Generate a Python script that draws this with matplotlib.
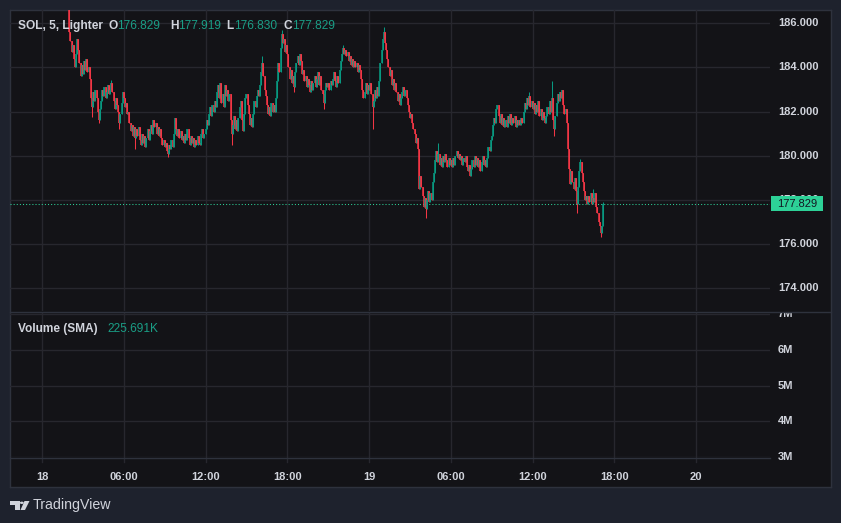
import matplotlib
matplotlib.use("Agg")
import matplotlib.pyplot as plt
from matplotlib.patches import Rectangle, Circle, Polygon
from matplotlib.lines import Line2D

plt.rcParams['font.family'] = ['Liberation Sans', 'DejaVu Sans']

# ---------------- data ----------------
START_HOUR = 2.0          # first candle: 18th 02:00 (hours since 18th 00:00)
BAR_MINUTES = 5
OPEN_FIRST = 187.0
CLOSES = [
    185.6, 185.2, 184.7, 185.0, 184.4, 184.0, 184.6, 185.3, 184.8, 184.2, 183.6, 184.1,
    183.7, 184.3, 183.9, 184.4, 183.8, 184.0, 183.5, 182.6, 182.2, 182.9, 182.5, 183.0,
    182.6, 182.0, 181.6, 182.1, 182.5, 183.0, 182.7, 183.1, 182.6, 182.9, 183.2, 182.8,
    183.0, 183.3, 182.9, 182.5, 182.1, 182.6, 182.3, 182.0, 181.5, 181.9, 182.4, 182.9,
    182.6, 182.2, 182.4, 181.9, 182.0, 181.5, 181.1, 181.4, 180.9, 181.3, 180.8, 181.2,
    180.9, 181.3, 180.7, 180.5, 181.0, 180.6, 180.9, 180.4, 180.8, 181.2, 180.7, 181.1,
    181.4, 181.0, 181.6, 181.3, 181.5, 181.0, 181.3, 180.9, 181.2, 180.8, 180.5, 180.7,
    180.4, 180.6, 180.2, 180.1, 180.5, 180.3, 180.7, 180.4, 181.0, 181.7, 181.2, 180.9,
    181.2, 180.8, 181.1, 180.7, 180.9, 180.6, 181.0, 180.7, 181.2, 180.8, 180.5, 180.9,
    180.6, 180.8, 180.4, 180.7, 180.5, 180.9, 180.6, 180.5, 181.0, 181.2, 180.8, 181.0,
    181.2, 181.6, 181.4, 181.9, 182.2, 181.8, 182.3, 182.0, 182.5, 182.2, 182.9, 183.2,
    182.6, 183.3, 182.4, 182.8, 182.2, 183.2, 182.7, 183.0, 182.5, 182.8, 181.6, 181.0,
    181.4, 181.8, 181.2, 181.6, 181.1, 181.7, 182.2, 182.5, 181.6, 181.1, 181.9, 182.6,
    182.8, 182.3, 181.9, 181.4, 181.7, 181.3, 181.9, 182.5, 182.2, 182.7, 183.0, 182.7,
    183.2, 183.8, 184.2, 183.6, 183.0, 182.7, 182.3, 181.9, 182.2, 181.8, 182.4, 182.0,
    182.3, 182.0, 182.6, 183.4, 184.2, 183.8, 184.9, 185.5, 185.1, 185.3, 184.7, 185.0,
    184.6, 184.0, 183.5, 183.9, 183.3, 183.6, 183.1, 183.8, 184.2, 184.5, 184.1, 184.6,
    184.3, 183.7, 183.9, 183.4, 183.6, 183.1, 183.5, 183.2, 182.9, 183.4, 183.0, 183.3,
    183.6, 183.1, 183.5, 183.8, 183.2, 183.6, 183.0, 182.8, 182.4, 183.0, 183.3, 183.1,
    183.3, 183.0, 183.4, 183.2, 183.5, 183.8, 183.4, 183.1, 183.6, 183.3, 183.9, 184.3,
    184.6, 184.9, 184.6, 184.8, 184.5, 184.7, 184.3, 184.5, 184.1, 184.4, 184.0, 184.3,
    184.0, 184.2, 183.8, 184.1, 183.9, 183.5, 183.0, 182.6, 182.9, 183.3, 182.8, 183.2,
    183.0, 183.3, 182.8, 182.2, 182.5, 183.0, 182.6, 183.1, 182.7, 183.4, 184.2, 184.8,
    185.3, 185.6, 185.1, 184.8, 184.4, 184.0, 183.6, 183.9, 183.2, 183.5, 183.0, 183.3,
    182.9, 182.5, 182.8, 182.3, 182.6, 182.9, 183.1, 182.7, 183.0, 182.6, 182.3, 182.0,
    181.7, 181.9, 181.5, 181.2, 181.0, 180.6, 180.8, 180.3, 178.5, 179.1, 178.6, 178.2,
    177.7, 178.1, 177.6, 178.0, 178.4, 177.9, 178.3, 178.0, 178.8, 179.2, 179.8, 180.2,
    179.7, 180.1, 179.6, 179.9, 179.5, 180.0, 179.7, 180.1, 179.8, 179.5, 179.9, 179.6,
    179.8, 179.5, 179.9, 179.6, 180.0, 180.2, 179.9, 180.1, 179.8, 180.0, 179.6, 179.9,
    179.7, 180.0, 179.5, 179.3, 179.6, 179.1, 179.4, 179.8, 179.5, 180.0, 179.6, 179.9,
    179.5, 179.8, 179.3, 179.7, 180.0, 179.6, 179.8, 179.5, 179.9, 180.4, 180.2, 180.7,
    180.9, 181.4, 181.7, 181.5, 182.1, 182.3, 181.8, 181.5, 181.9, 181.4, 181.7, 181.3,
    181.6, 181.3, 181.8, 181.5, 181.9, 181.4, 181.7, 181.5, 181.8, 181.3, 181.6, 181.4,
    181.6, 181.4, 181.7, 181.5, 182.0, 182.4, 182.1, 182.6, 182.3, 182.7, 182.2, 182.5,
    182.1, 182.4, 181.9, 182.3, 182.0, 182.5, 181.8, 182.1, 181.6, 182.0, 181.7, 181.5,
    181.8, 182.2, 181.9, 182.5, 182.0, 182.6, 181.6, 181.2, 181.8, 182.4, 182.8, 182.5,
    182.9, 182.6, 183.0, 182.3, 181.9, 182.1, 181.5, 180.3, 179.4, 178.7, 179.3, 178.8,
    178.5, 179.0, 178.4, 177.8, 178.6, 179.3, 179.7, 179.2, 178.8, 178.4, 178.0, 178.2,
    177.8, 178.2, 177.9, 178.3, 177.8, 178.1, 177.9, 178.3, 177.7, 177.4, 177.0, 176.8,
    176.5, 176.829, 177.829,
]
HIGH_WICKS = {0: 187.2, 37: 183.45, 170: 184.5, 187: 185.7, 241: 185.0, 277: 185.85,
              325: 180.6, 405: 182.9, 425: 183.4, 450: 179.85, 461: 178.5, 470: 177.919}
LOW_WICKS = {20: 181.75, 26: 181.5, 44: 181.2, 58: 180.3, 87: 179.95, 143: 180.5,
             198: 182.9, 224: 182.1, 267: 181.2, 314: 177.2, 427: 180.9, 447: 177.4,
             468: 176.3, 470: 176.830}

PRICE_TICKS = [174, 176, 178, 180, 182, 184, 186]
VOLUME_TICKS = [3, 4, 5, 6, 7]     # millions
TIME_TICKS = [0, 6, 12, 18, 24, 30, 36, 42, 48]
TIME_LABELS = ["18", "06:00", "12:00", "18:00", "19", "06:00", "12:00", "18:00", "20"]
SYMBOL = "SOL, 5, Lighter"
VOLUME_TITLE = "Volume (SMA)"
VOLUME_SMA = "225.691K"

# ---------------- style ----------------
FIG_W, FIG_H = 841, 523
BG_OUT = "#1e222d"
BG_PANE = "#131317"
GRID = "#27272e"
BORDER = "#2e323d"
TEXT = "#d1d4dc"
UP = "#089981"
DOWN = "#f23645"
LAST = "#2dd197"
HDR_VAL = "#1a9e86"
HDR_FS = 8.6


def fx(px):
    return px / FIG_W


def fy(py):
    return 1 - py / FIG_H


def rect(l, t, r, b):
    return [fx(l), fy(b), fx(r) - fx(l), fy(t) - fy(b)]


fig = plt.figure(figsize=(FIG_W / 100, FIG_H / 100), dpi=100, facecolor=BG_OUT)

bg = fig.add_axes(rect(10, 10, 831, 487))
bg.set_facecolor(BG_PANE)
bg.set_xticks([])
bg.set_yticks([])
for s in bg.spines.values():
    s.set_color(BORDER)
    s.set_linewidth(1.0)

# pixel calibration of the scales
PX_18 = 42.0
PX_PER_HOUR = 13.63
X_LEFT, X_RIGHT = 10, 770
xlim = ((X_LEFT - PX_18) / PX_PER_HOUR, (X_RIGHT - PX_18) / PX_PER_HOUR)


def price_at(py):
    return 186 - (py - 23.3) / 22.08


def vol_at(py):
    return 3 + (457 - py) / 35.7


# ---------------- price pane ----------------
ax = fig.add_axes(rect(X_LEFT, 10, X_RIGHT, 311))
ax.set_facecolor("none")
ax.set_xlim(*xlim)
ax.set_ylim(price_at(311), price_at(10))
ax.axis("off")
for t in TIME_TICKS:
    ax.axvline(t, color=GRID, lw=1, zorder=0)
for p in PRICE_TICKS:
    ax.axhline(p, color=GRID, lw=1, zorder=0)

n = len(CLOSES)
times = [START_HOUR + i * BAR_MINUTES / 60 for i in range(n)]
opens = [OPEN_FIRST] + CLOSES[:-1]
highs = [max(o, c, HIGH_WICKS.get(i, c)) for i, (o, c) in enumerate(zip(opens, CLOSES))]
lows = [min(o, c, LOW_WICKS.get(i, c)) for i, (o, c) in enumerate(zip(opens, CLOSES))]
cols = [UP if c >= o else DOWN for o, c in zip(opens, CLOSES)]
ax.vlines(times, lows, highs, colors=cols, linewidth=0.75, zorder=3)
ax.vlines(times, [min(o, c) for o, c in zip(opens, CLOSES)],
          [max(o, c) for o, c in zip(opens, CLOSES)], colors=cols, linewidth=1.15, zorder=3)

last = CLOSES[-1]
ax.axhline(last, color=LAST, lw=0.75, linestyle=(0, (1, 2)), zorder=2)

# header
hy = fy(26)
fig.text(fx(18), hy, SYMBOL, color=TEXT, fontsize=HDR_FS, fontweight="bold", va="center", zorder=10)
ohlc = [("O", opens[-1]), ("H", HIGH_WICKS[n - 1]), ("L", LOW_WICKS[n - 1]), ("C", CLOSES[-1])]
hx = [109, 170, 226, 284]
for (lab, v), x in zip(ohlc, hx):
    fig.text(fx(x), hy, lab, color=TEXT, fontsize=HDR_FS, fontweight="bold", va="center", zorder=10)
    fig.text(fx(x + 8.5), hy, f"{v:.3f}", color=HDR_VAL, fontsize=HDR_FS, va="center", zorder=10)

# price scale
ax_ps = fig.add_axes(rect(770, 10, 831, 311))
ax_ps.set_facecolor("none")
ax_ps.axis("off")
ax_ps.set_xlim(0, 61)
ax_ps.set_ylim(price_at(311), price_at(10))
for p in PRICE_TICKS:
    ax_ps.text(8, p, f"{p:.3f}", color=TEXT, fontsize=8.0, va="center", ha="left",
               fontweight="bold", clip_on=True)
ax_ps.add_patch(Rectangle((1, last - 7.3 / 22.08), 52, 14.6 / 22.08, facecolor=LAST,
                          edgecolor="none", zorder=5))
ax_ps.text(27, last, f"{last:.3f}", color="#131722", fontsize=8.0, va="center", ha="center",
           zorder=6)

# separator between panes
fig.add_artist(Line2D([fx(10), fx(831)], [fy(311.5), fy(311.5)], color=BORDER, lw=1))

# ---------------- volume pane ----------------
axv = fig.add_axes(rect(X_LEFT, 312, X_RIGHT, 457))
axv.set_facecolor("none")
axv.set_xlim(*xlim)
axv.set_ylim(vol_at(457), vol_at(312))
axv.axis("off")
for t in TIME_TICKS:
    axv.axvline(t, color=GRID, lw=1, zorder=0)
for v in VOLUME_TICKS:
    axv.axhline(v, color=GRID, lw=1, zorder=0)
fig.text(fx(18), fy(329), VOLUME_TITLE, color=TEXT, fontsize=HDR_FS, fontweight="bold", va="center")
fig.text(fx(107), fy(329), VOLUME_SMA, color=HDR_VAL, fontsize=HDR_FS, va="center")

ax_vs = fig.add_axes(rect(770, 312, 831, 457))
ax_vs.set_facecolor("none")
ax_vs.axis("off")
ax_vs.set_xlim(0, 61)
ax_vs.set_ylim(vol_at(457), vol_at(312))
for v in VOLUME_TICKS:
    ax_vs.text(8, v, f"{v}M", color=TEXT, fontsize=8.0, va="center", ha="left",
               fontweight="bold", clip_on=(v == max(VOLUME_TICKS)))

# ---------------- time axis ----------------
fig.add_artist(Line2D([fx(10), fx(770)], [fy(457.5), fy(457.5)], color=BORDER, lw=1))
axt = fig.add_axes(rect(X_LEFT, 457, X_RIGHT, 487))
axt.set_facecolor("none")
axt.axis("off")
axt.set_xlim(*xlim)
axt.set_ylim(30, 0)
for t, lab in zip(TIME_TICKS, TIME_LABELS):
    axt.plot([t, t], [0, 5], color=GRID, lw=1)
    axt.text(t, 19.5, lab, color=TEXT, fontsize=8.0, ha="center", va="center",
             fontweight="bold")

# ---------------- TradingView logo ----------------
tr = fig.transFigure


def P(x, y):
    return (fx(x), fy(y))


logo_c = "#d1d4dc"
fig.patches.append(Polygon([P(10, 501), P(19.5, 501), P(19.5, 510), P(15.5, 510), P(15.5, 504.5),
                            P(10, 504.5)], closed=True, facecolor=logo_c, edgecolor="none",
                           transform=tr))
fig.patches.append(Circle(P(21.8, 502.8), 1.9 / FIG_W, facecolor=logo_c, edgecolor="none",
                          transform=tr))
fig.patches.append(Polygon([P(24.5, 501), P(29.5, 501), P(25.0, 510), P(20.5, 510)], closed=True,
                           facecolor=logo_c, edgecolor="none", transform=tr))
fig.text(fx(33), fy(505.5), "TradingView", color=logo_c, fontsize=10.2, va="center", ha="left")

fig.savefig("out.png", dpi=100, facecolor=BG_OUT)
